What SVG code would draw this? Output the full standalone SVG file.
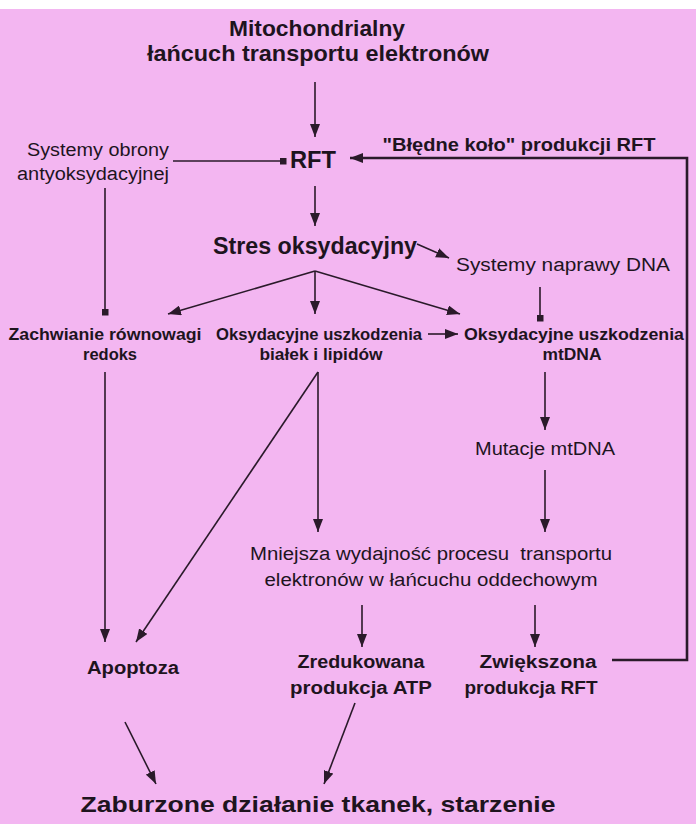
<svg xmlns="http://www.w3.org/2000/svg" width="696" height="824" viewBox="0 0 696 824">
<defs>
<style>
.t{font-family:"Liberation Sans",Arial,sans-serif;fill:#1e141e;text-anchor:middle}
.b{font-weight:bold}
.l{stroke:#2a1a2a;stroke-width:1.6;fill:none}
.k{stroke:#2a1a2a;stroke-width:2.6;fill:none}
</style>
<marker id="a" viewBox="0 0 13 10" refX="13" refY="5" markerWidth="13" markerHeight="10" markerUnits="userSpaceOnUse" orient="auto"><path d="M0,0 L13,5 L0,10 Z" fill="#2a1a2a"/></marker>
<marker id="s" viewBox="0 0 7 7" refX="3.5" refY="3.5" markerWidth="7" markerHeight="7" markerUnits="userSpaceOnUse" orient="auto"><rect width="7" height="7" fill="#2a1a2a"/></marker>
</defs>
<rect width="696" height="824" fill="#f3b6f1"/>
<rect width="696" height="9" fill="#ffffff"/>
<g id="connectors">
<line class="l" x1="315" y1="82" x2="315" y2="137" marker-end="url(#a)"/>
<line class="l" x1="173" y1="161" x2="283" y2="161" marker-end="url(#s)"/>
<polyline class="k" points="612,660 687,660 687,158 350,158" marker-end="url(#a)"/>
<line class="l" x1="315" y1="186" x2="315" y2="226" marker-end="url(#a)"/>
<line class="l" x1="417" y1="244" x2="449" y2="258" marker-end="url(#a)"/>
<line class="l" x1="105" y1="188" x2="105" y2="312" marker-end="url(#s)"/>
<line class="l" x1="540" y1="287" x2="540" y2="318" marker-end="url(#s)"/>
<line class="l" x1="315" y1="271" x2="168" y2="314" marker-end="url(#a)"/>
<line class="l" x1="315" y1="271" x2="315" y2="314" marker-end="url(#a)"/>
<line class="l" x1="315" y1="271" x2="460" y2="314" marker-end="url(#a)"/>
<line class="l" x1="428" y1="334" x2="458" y2="334" marker-end="url(#a)"/>
<line class="l" x1="105" y1="372" x2="105" y2="642" marker-end="url(#a)"/>
<line class="l" x1="318" y1="372" x2="136" y2="642" marker-end="url(#a)"/>
<line class="l" x1="318" y1="372" x2="318" y2="532" marker-end="url(#a)"/>
<line class="l" x1="545" y1="372" x2="545" y2="430" marker-end="url(#a)"/>
<line class="l" x1="545" y1="470" x2="545" y2="532" marker-end="url(#a)"/>
<line class="l" x1="362" y1="605" x2="362" y2="647" marker-end="url(#a)"/>
<line class="l" x1="535" y1="605" x2="535" y2="647" marker-end="url(#a)"/>
<line class="l" x1="125" y1="722" x2="156" y2="784" marker-end="url(#a)"/>
<line class="l" x1="355" y1="703" x2="324" y2="784" marker-end="url(#a)"/>
</g>
<g id="etc"><text class="t b" font-size="22" x="317" y="36" textLength="176" lengthAdjust="spacingAndGlyphs">Mitochondrialny</text><text class="t b" font-size="22" x="318" y="61" textLength="342" lengthAdjust="spacingAndGlyphs">łańcuch transportu elektronów</text></g>
<g id="rft"><text class="t b" font-size="23" x="313" y="168" textLength="46" lengthAdjust="spacingAndGlyphs">RFT</text></g>
<g id="obrona"><text class="t" font-size="18" x="98" y="156" textLength="142" lengthAdjust="spacingAndGlyphs">Systemy obrony</text><text class="t" font-size="18" x="93" y="180" textLength="152" lengthAdjust="spacingAndGlyphs">antyoksydacyjnej</text></g>
<g id="kolo"><text class="t b" font-size="19" x="519" y="151" textLength="273" lengthAdjust="spacingAndGlyphs">"Błędne koło" produkcji RFT</text></g>
<g id="stres"><text class="t b" font-size="23" x="315" y="254" textLength="204" lengthAdjust="spacingAndGlyphs">Stres oksydacyjny</text></g>
<g id="naprawa"><text class="t" font-size="18" x="563" y="271" textLength="214" lengthAdjust="spacingAndGlyphs">Systemy naprawy DNA</text></g>
<g id="redoks"><text class="t b" font-size="16" x="105" y="340" textLength="193" lengthAdjust="spacingAndGlyphs">Zachwianie równowagi</text><text class="t b" font-size="16" x="110" y="360" textLength="54" lengthAdjust="spacingAndGlyphs">redoks</text></g>
<g id="bialka"><text class="t b" font-size="16" x="319" y="340" textLength="206" lengthAdjust="spacingAndGlyphs">Oksydacyjne uszkodzenia</text><text class="t b" font-size="16" x="321" y="360" textLength="123" lengthAdjust="spacingAndGlyphs">białek i lipidów</text></g>
<g id="mtdna"><text class="t b" font-size="16" x="574" y="340" textLength="220" lengthAdjust="spacingAndGlyphs">Oksydacyjne uszkodzenia</text><text class="t b" font-size="16" x="572" y="360" textLength="59" lengthAdjust="spacingAndGlyphs">mtDNA</text></g>
<g id="mutacje"><text class="t" font-size="18" x="545" y="455" textLength="140" lengthAdjust="spacingAndGlyphs">Mutacje mtDNA</text></g>
<g id="wydajnosc"><text class="t" font-size="18" x="431" y="560" textLength="362" lengthAdjust="spacingAndGlyphs" xml:space="preserve">Mniejsza wydajność procesu  transportu</text><text class="t" font-size="18" x="431" y="586" textLength="333" lengthAdjust="spacingAndGlyphs">elektronów w łańcuchu oddechowym</text></g>
<g id="apoptoza"><text class="t b" font-size="18" x="133" y="674" textLength="92" lengthAdjust="spacingAndGlyphs">Apoptoza</text></g>
<g id="atp"><text class="t b" font-size="18" x="361" y="668" textLength="127" lengthAdjust="spacingAndGlyphs">Zredukowana</text><text class="t b" font-size="18" x="361" y="694" textLength="142" lengthAdjust="spacingAndGlyphs">produkcja ATP</text></g>
<g id="zwiekszona"><text class="t b" font-size="18" x="538" y="668" textLength="117" lengthAdjust="spacingAndGlyphs">Zwiększona</text><text class="t b" font-size="18" x="531" y="694" textLength="133" lengthAdjust="spacingAndGlyphs">produkcja RFT</text></g>
<g id="starzenie"><text class="t b" font-size="22" x="318" y="812" textLength="475" lengthAdjust="spacingAndGlyphs">Zaburzone działanie tkanek, starzenie</text></g>
</svg>
